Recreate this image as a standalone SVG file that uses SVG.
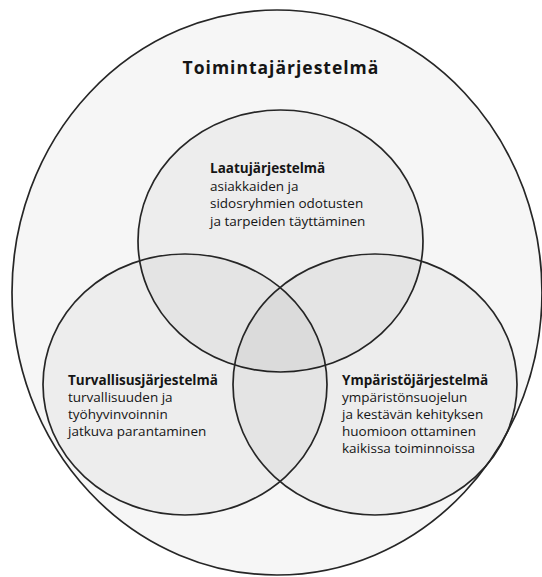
<svg xmlns="http://www.w3.org/2000/svg" width="542" height="577" viewBox="0 0 542 577">
  <style>
    .outer { fill: #f6f6f6; stroke: #262626; stroke-width: 1.7; }
    .set { fill: #000000; fill-opacity: 0.035; stroke: #262626; stroke-width: 1.7; }
    .title { font-family: "Open Sans", "Noto Sans", "DejaVu Sans", sans-serif; font-size: 17.5px; font-weight: bold; letter-spacing: 1px; fill: #151515; }
    .label { font-family: "Open Sans", "Noto Sans", "DejaVu Sans", sans-serif; font-size: 13.5px; fill: #151515; }
    .head { font-weight: bold; }
  </style>
  <rect x="0" y="0" width="542" height="577" fill="#ffffff"/>
  <g id="toimintajarjestelma">
    <ellipse class="outer" cx="277" cy="292.5" rx="265" ry="282.5"/>
    <text class="title" x="281" y="74" text-anchor="middle">Toimintajärjestelmä</text>
  </g>
  <g id="laatujarjestelma">
    <ellipse class="set" cx="280.5" cy="241" rx="142.5" ry="131"/>
    <text class="label" x="210" y="173"><tspan class="head">Laatujärjestelmä</tspan><tspan x="210" y="190.5">asiakkaiden ja</tspan><tspan x="210" y="208">sidosryhmien odotusten</tspan><tspan x="210" y="225.5">ja tarpeiden täyttäminen</tspan></text>
  </g>
  <g id="turvallisuusjarjestelma">
    <ellipse class="set" cx="185" cy="384.5" rx="142" ry="130.5"/>
    <text class="label" x="68" y="385"><tspan class="head">Turvallisusjärjestelmä</tspan><tspan x="68" y="402">turvallisuuden ja</tspan><tspan x="68" y="419">työhyvinvoinnin</tspan><tspan x="68" y="436">jatkuva parantaminen</tspan></text>
  </g>
  <g id="ymparistojarjestelma">
    <ellipse class="set" cx="375" cy="384.5" rx="142" ry="130.5"/>
    <text class="label" x="342" y="385"><tspan class="head">Ympäristöjärjestelmä</tspan><tspan x="342" y="402">ympäristönsuojelun</tspan><tspan x="342" y="419">ja kestävän kehityksen</tspan><tspan x="342" y="436">huomioon ottaminen</tspan><tspan x="342" y="453">kaikissa toiminnoissa</tspan></text>
  </g>
  <g id="connectors"/>
</svg>
